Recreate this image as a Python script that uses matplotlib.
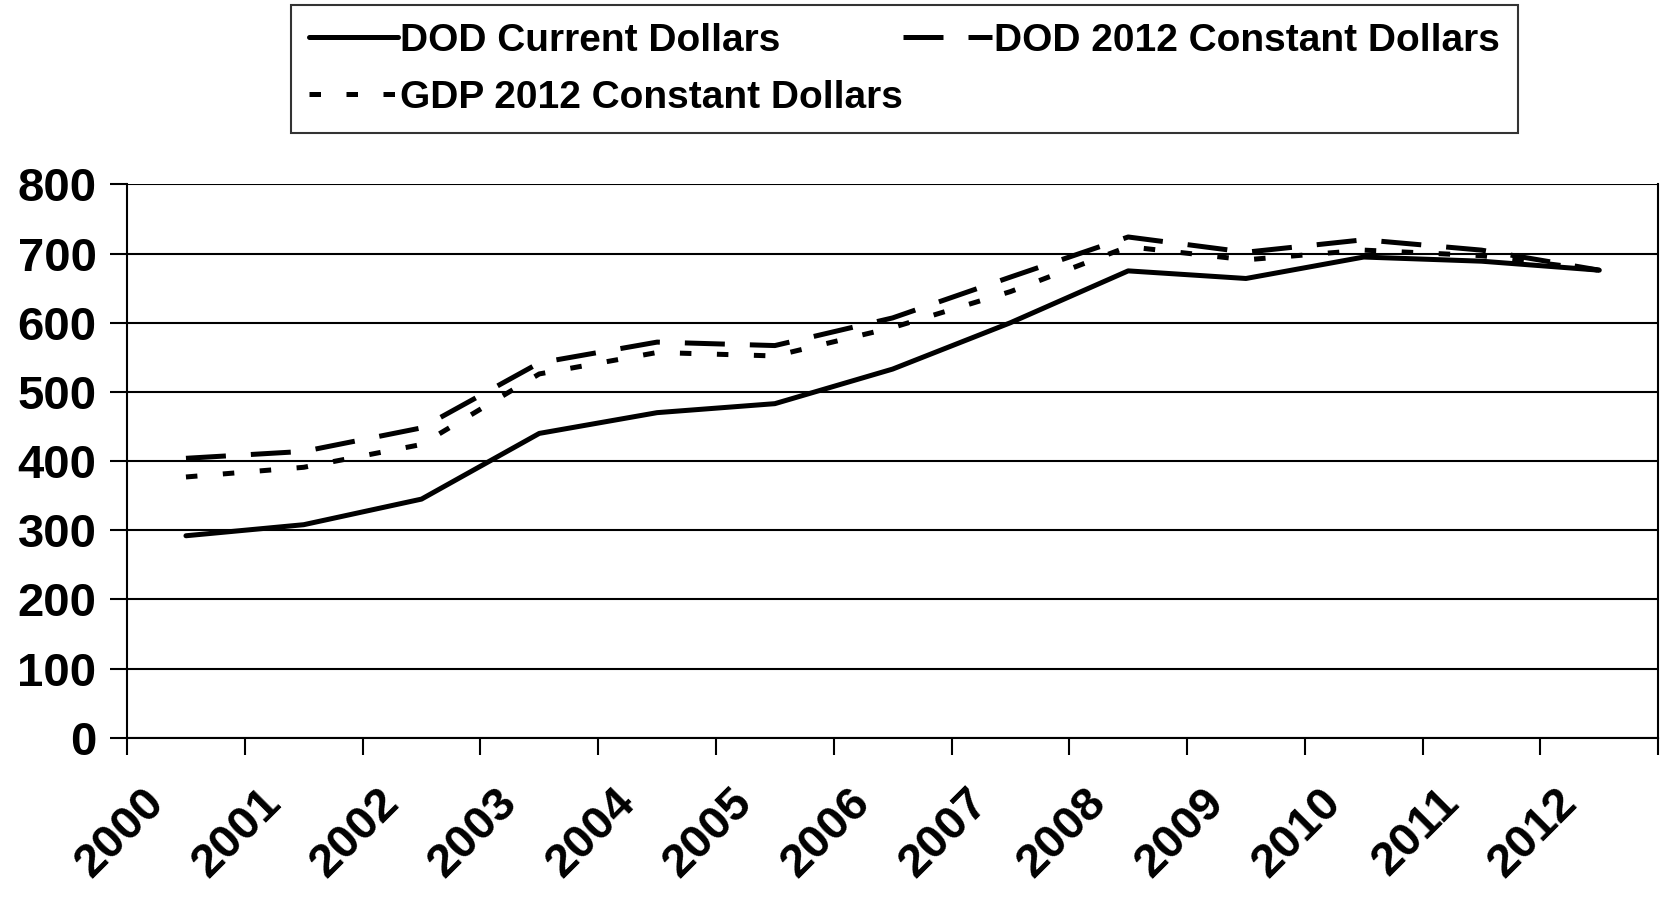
import matplotlib.pyplot as plt
from matplotlib.transforms import ScaledTranslation

plt.rcParams['font.family'] = ['Liberation Sans', 'DejaVu Sans']
plt.rcParams['font.weight'] = 'bold'

# values (billions of dollars)
years = ['2000', '2001', '2002', '2003', '2004', '2005', '2006',
         '2007', '2008', '2009', '2010', '2011', '2012']
dod_current = [292, 308, 345, 440, 470, 483, 533, 600, 675, 664, 695, 689, 676]
dod_constant = [404, 414, 448, 542, 572, 567, 607, 666, 724, 702, 720, 705, 676]
gdp_constant = [377, 391, 424, 526, 557, 552, 593, 645, 710, 691, 705, 697, 676]

fig = plt.figure(figsize=(16.61, 9.13), dpi=100)
ax = fig.add_axes([0.0765, 0.192, 0.9218, 0.606])

x = list(range(len(years)))
l1, = ax.plot(x, dod_current, color='black', lw=3.6,
              solid_capstyle='round', label='DOD Current Dollars')
l2, = ax.plot(x, dod_constant, color='black', lw=3.6,
              linestyle=(0, (8, 5)), label='DOD 2012 Constant Dollars')
l3, = ax.plot(x, gdp_constant, color='black', lw=3.6,
              linestyle=(0, (2.3, 5.1)), label='GDP 2012 Constant Dollars')

ax.set_xlim(-0.5, 12.5)
ax.set_ylim(0, 800)
ax.set_yticks(range(0, 801, 100))
ax.yaxis.grid(True, color='black', lw=1.5)
ax.set_axisbelow(True)
for s in ax.spines.values():
    s.set_linewidth(1.5)
ax.spines['top'].set_visible(False)

# category labels in the middle, tick marks between categories
ax.set_xticks(x)
ax.set_xticklabels(years, rotation=45, ha='right', va='center',
                   rotation_mode='anchor', fontsize=34, fontweight='bold')
ax.set_xticks([i - 0.5 for i in range(len(years) + 1)], minor=True)
ax.tick_params(axis='x', which='major', length=0, pad=42)
ax.tick_params(axis='x', which='minor', length=12, width=1.5, direction='out')
ax.tick_params(axis='y', length=12, width=1.5, pad=10, labelsize=34)
for lab in ax.get_yticklabels():
    lab.set_fontweight('bold')
shift = ScaledTranslation(-0.29, 0, fig.dpi_scale_trans)
for lab in ax.get_xticklabels():
    lab.set_transform(lab.get_transform() + shift)

# column-major legend, so order handles to get the reference's rows
leg = fig.legend([l1, l3, l2], [l1.get_label(), l3.get_label(), l2.get_label()],
                 loc='upper left', bbox_to_anchor=(0.1752, 0.9945), ncol=2,
                 frameon=True, fancybox=False, edgecolor='black',
                 prop={'family': ['Liberation Sans', 'DejaVu Sans'],
                       'weight': 'bold', 'size': 28},
                 handlelength=2.3, handletextpad=0.05, columnspacing=0.0,
                 labelspacing=0.55, borderpad=0.45, borderaxespad=0)
leg.get_frame().set_linewidth(1.5)

fig.savefig('out.png', dpi=100, facecolor='white')
